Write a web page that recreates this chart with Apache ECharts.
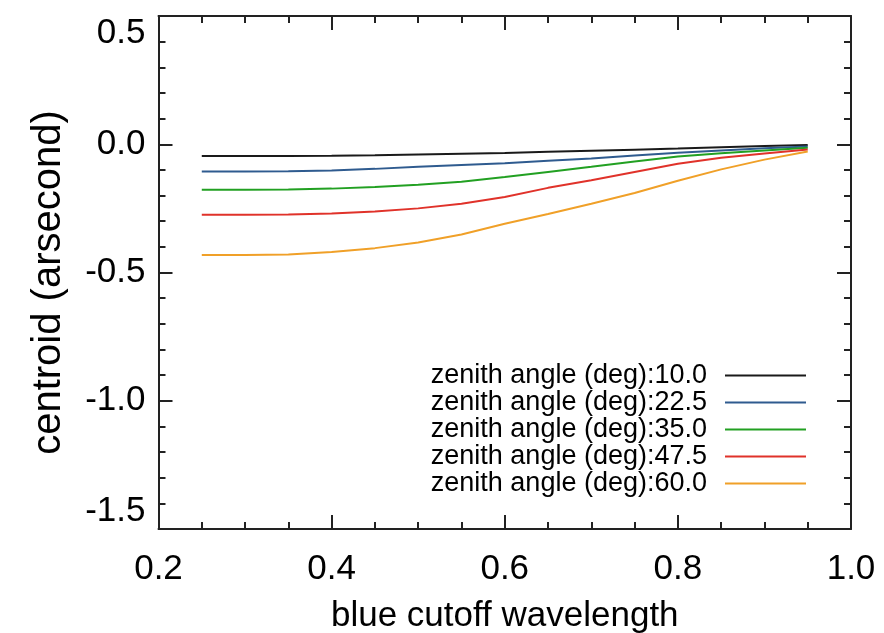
<!DOCTYPE html>
<html>
<head>
<meta charset="utf-8">
<script src="https://cdn.jsdelivr.net/npm/echarts@6/dist/echarts.min.js"></script>
<style>html,body{margin:0;padding:0;background:#fff}#c{width:884px;height:633px}</style>
</head>
<body>
<div id="c"></div>
<script>
const xValues = [0.25,0.30,0.35,0.40,0.45,0.50,0.55,0.60,0.65,0.70,0.75,0.80,0.85,0.90,0.95];
const seriesNames = ['zenith angle (deg):10.0','zenith angle (deg):22.5','zenith angle (deg):35.0','zenith angle (deg):47.5','zenith angle (deg):60.0'];
const z100 = [-0.046,-0.046,-0.046,-0.045,-0.043,-0.040,-0.037,-0.034,-0.029,-0.025,-0.021,-0.017,-0.012,-0.007,-0.003];
const z225 = [-0.106,-0.106,-0.105,-0.102,-0.096,-0.088,-0.081,-0.074,-0.064,-0.056,-0.044,-0.033,-0.024,-0.016,-0.009];
const z350 = [-0.177,-0.177,-0.176,-0.173,-0.167,-0.158,-0.146,-0.128,-0.108,-0.088,-0.067,-0.048,-0.035,-0.024,-0.014];
const z475 = [-0.275,-0.275,-0.274,-0.270,-0.262,-0.250,-0.232,-0.206,-0.170,-0.140,-0.108,-0.076,-0.053,-0.036,-0.020];
const z600 = [-0.432,-0.432,-0.430,-0.420,-0.405,-0.383,-0.352,-0.310,-0.272,-0.232,-0.190,-0.142,-0.098,-0.060,-0.028];
const seriesValues = [z100, z225, z350, z475, z600];
const colors = ['#1a1a1a','#2f5b8f','#22a022','#e0322a','#f0a028'];
const xTicks = [0.2,0.4,0.6,0.8,1.0];
const yTicks = [-1.5,-1.0,-0.5,0.0,0.5];

const FONT = '"Liberation Sans", Arial, Helvetica, sans-serif';
const axisLine = {show:true, onZero:false, lineStyle:{color:'#222', width:2}};
const tick = {show:true, inside:true, length:14, lineStyle:{color:'#222', width:2}};
const minor = (n)=>({show:true, splitNumber:n, length:7, lineStyle:{color:'#222', width:2}});

const chart = echarts.init(document.getElementById('c'), null, {renderer:'canvas'});
chart.setOption({
  animation:false,
  backgroundColor:'#fff',
  grid:{left:158.5, right:33, top:16, bottom:104, containLabel:false, outerBoundsMode:'none'},
  legend:{
    orient:'vertical', align:'right', right:73, top:357,
    itemWidth:81, itemHeight:2, itemGap:0, icon:'rect',
    textStyle:{fontFamily:FONT, fontSize:27, color:'#000', lineHeight:27, padding:[0,13,0,0]},
    data: seriesNames
  },
  xAxis:[{
    type:'value', min:xTicks[0], max:xTicks[xTicks.length-1], interval:0.2,
    axisLine, axisTick:tick, minorTick:minor(4), splitLine:{show:false},
    axisLabel:{fontFamily:FONT, fontSize:35, color:'#000', margin:23, formatter:v=>v.toFixed(1)},
    name:'blue cutoff wavelength', nameLocation:'middle', nameGap:70,
    nameTextStyle:{fontFamily:FONT, fontSize:35, color:'#000'}
  },{
    type:'value', position:'top', min:0.2, max:1.0, interval:0.2,
    axisLine, axisTick:tick, minorTick:minor(4), splitLine:{show:false}, axisLabel:{show:false}
  }],
  yAxis:[{
    type:'value', min:yTicks[0], max:yTicks[yTicks.length-1], interval:0.5,
    axisLine, axisTick:tick, minorTick:minor(5), splitLine:{show:false},
    axisLabel:{fontFamily:FONT, fontSize:35, color:'#000', margin:13, formatter:v=>v.toFixed(1),
      verticalAlignMinLabel:'bottom', verticalAlignMaxLabel:'top'},
    name:'centroid (arsecond)', nameLocation:'middle', nameGap:90, nameRotate:90,
    nameTextStyle:{fontFamily:FONT, fontSize:40, color:'#000', padding:[0,20,0,0]}
  },{
    type:'value', position:'right', min:-1.5, max:0.5, interval:0.5,
    axisLine, axisTick:tick, minorTick:minor(5), splitLine:{show:false}, axisLabel:{show:false}
  }],
  series: seriesNames.map((n,i)=>({
    name:n, type:'line', showSymbol:false, smooth:false,
    data: xValues.map((x,j)=>[x, seriesValues[i][j]]),
    lineStyle:{color:colors[i], width:2}, itemStyle:{color:colors[i]}
  }))
});
</script>
</body>
</html>
